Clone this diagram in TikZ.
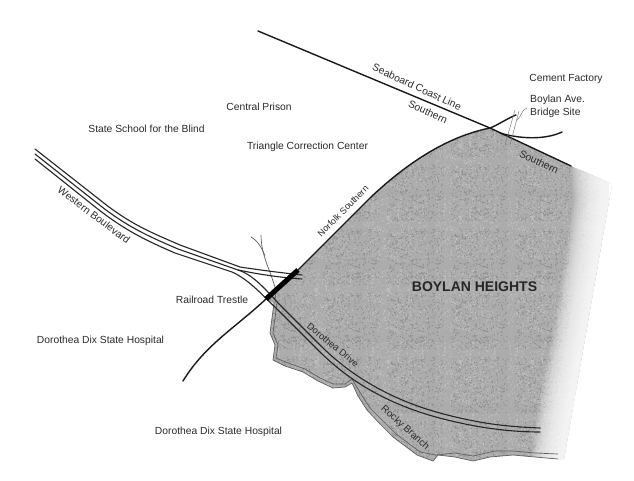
\documentclass[tikz,border=0pt]{standalone}
\usepackage{fontspec}
\usetikzlibrary{patterns}
\setmainfont{Liberation Sans}
\definecolor{ink}{HTML}{2A2A2A}
\definecolor{land}{HTML}{ACACAC}
\definecolor{landdark}{HTML}{8E8E8E}
\definecolor{landlight}{HTML}{C0C0C0}
\definecolor{creek}{HTML}{606060}
\pgfmathsetseed{7}
\pgfdeclarepatternformonly{noiseA}{\pgfpointorigin}{\pgfqpoint{64pt}{64pt}}{\pgfqpoint{64pt}{64pt}}{%
  \foreach \i in {1,...,420}{%
    \pgfmathsetmacro{\qx}{3+rnd*57}\pgfmathsetmacro{\qy}{3+rnd*57}%
    \pgfpathrectangle{\pgfpoint{\qx pt}{\qy pt}}{\pgfqpoint{1pt}{1pt}}%
  }%
  \pgfusepath{fill}%
}
\pgfdeclarepatternformonly{noiseB}{\pgfpointorigin}{\pgfqpoint{72pt}{72pt}}{\pgfqpoint{72pt}{72pt}}{%
  \foreach \i in {1,...,520}{%
    \pgfmathsetmacro{\qx}{3+rnd*65}\pgfmathsetmacro{\qy}{3+rnd*65}%
    \pgfpathrectangle{\pgfpoint{\qx pt}{\qy pt}}{\pgfqpoint{1pt}{1pt}}%
  }%
  \pgfusepath{fill}%
}
\tikzset{
  lab/.style={font=\fontsize{10.3}{13}\selectfont,text=ink,inner sep=0pt},
  roadline/.style={draw=black!85,line width=1.1pt,line cap=round,line join=round},
  rail/.style={draw=black!90,line width=1.4pt,line cap=round},
  creekline/.style={draw=creek,line width=0.7pt,line join=round},
}
\begin{document}
\begin{tikzpicture}[x=1pt,y=-1pt]
\useasboundingbox (0,0) rectangle (634,481);
\fill[white] (0,0) rectangle (634,481);
\coordinate (junction) at (490,128);
\coordinate (trestleN) at (298,270);
\coordinate (trestleS) at (266,299);
\def\landpath{(junction) .. controls (450,136) and (410,160) .. (370,198)
   -- (trestleN) -- (trestleS) -- (274,303) -- (272,318) -- (270,333) -- (275,345) -- (273,360) -- (285,366) -- (303,372)
   -- (318,381) -- (333,388) -- (345,387) -- (352,383) -- (358,396) -- (367,410) -- (380,424) -- (393,437) -- (405,446) -- (417,455)
   -- (433,461) -- (438,455) -- (455,457) -- (473,461) -- (490,457) -- (513,455) -- (535,457) -- (558,459)
   -- (564,459) -- (612,184) -- (571,166) -- cycle}
\begin{scope}
\clip \landpath;
\fill[land] (260,120) rectangle (620,470);
\fill[pattern=noiseA,pattern color=landdark] (260,120) rectangle (620,470);
\fill[pattern=noiseB,pattern color=landlight] (260,120) rectangle (620,470);
\foreach \d in {0,1,...,36}{
  \fill[white,opacity=0.08] (570+\d,150) -- (573+\d,200) -- (566+\d,250) -- (558+\d,300) -- (549+\d,350) -- (539+\d,400) -- (528+\d,470) -- (650,470) -- (650,150) -- cycle;
}
\fill[white] (610,150) -- (609,200) -- (602,250) -- (593,300) -- (584,350) -- (574,400) -- (563,470) -- (650,470) -- (650,150) -- cycle;
\end{scope}
% creek
\path[creekline] (251,237) .. controls (258,241) and (262,248) .. (265,256);
\path[creekline] (261,235) .. controls (261,250) and (266,262) .. (271,275) -- (276,290) -- (275,303);
\path[creekline] (274,303) -- (272,318) -- (270,333) -- (275,345) -- (273,360) -- (285,366) -- (303,372) -- (318,381) -- (333,388) -- (345,387) -- (352,383) -- (358,396) -- (367,410) -- (380,424) -- (393,437) -- (405,446) -- (417,455) -- (433,461) -- (438,455) -- (455,457) -- (473,461) -- (490,457) -- (513,455) -- (535,457) -- (558,459);
\path[creekline] (277,303) -- (275,318) -- (273,333) -- (278,345) -- (276,358) -- (288,363) -- (305,369) -- (320,378) -- (333,384) -- (345,384) -- (352,379) -- (361,394) -- (370,408) -- (383,421) -- (396,434) -- (408,443) -- (420,452) -- (436,455) -- (455,453) -- (473,456) -- (495,451) -- (513,451) -- (535,453) -- (558,454);
% western boulevard and its branches
\path[roadline] (35,149) -- (100,200) .. controls (130,224) and (150,232) .. (180,245) -- (240,267) .. controls (260,270) and (275,272) .. (302,275);
\path[roadline] (35,154) -- (97,203) .. controls (127,227) and (148,236) .. (178,249) -- (238,270) .. controls (258,274) and (275,277) .. (302,279);
\path[roadline] (238,270) .. controls (255,275) and (270,295) .. (283,308) -- (320,345) .. controls (355,380) and (400,405) .. (460,418) .. controls (490,425) and (515,427) .. (540,428);
\path[roadline] (35,159) -- (94,206) .. controls (124,230) and (145,240) .. (175,253) -- (232,272) .. controls (250,280) and (265,298) .. (279,311) -- (316,348) .. controls (351,384) and (396,409) .. (456,422) .. controls (486,429) and (515,432) .. (540,432);
% railways
\path[rail] (258,31) -- (junction) -- (571,166);
\path[rail] (junction) .. controls (450,136) and (410,160) .. (370,198) -- (trestleN);
\path[rail] (trestleS) .. controls (235,328) and (205,345) .. (183,381);
\path[rail] (junction) .. controls (498,125) and (508,118) .. (516,115);
\path[rail] (500,133) .. controls (520,139) and (545,140) .. (562,132);
\draw[line width=5pt,black] (trestleS) -- (trestleN);
% bridge site
\path[draw=black!55,line width=0.45pt] (515,110) -- (505,145);
\path[draw=black!55,line width=0.45pt] (519,111) -- (510,145);
\path[draw=black!55,line width=0.45pt] (527,108) .. controls (521,110) and (522,116) .. (517,120);
% labels
\node[lab] (cp) at (259,107) {Central Prison};
\node[lab] (ss) at (146.5,129) {State School for the Blind};
\node[lab] (tc) at (307.5,147) {Triangle Correction Center};
\node[lab] (cf) at (566,79) {Cement Factory};
\node[lab,anchor=north west,align=left] (ba) at (530,95) {Boylan Ave.\\Bridge Site};
\node[lab,rotate=-25] (sc) at (417,87) {Seaboard Coast Line};
\node[lab,rotate=-25] (so1) at (428,112) {Southern};
\node[lab,rotate=-25] (so2) at (539,162) {Southern};
\node[lab,rotate=45,font=\fontsize{9}{10}\selectfont] (ns) at (343,211) {Norfolk Southern};
\node[lab,rotate=-37] (wb) at (94,215) {Western Boulevard};
\node[lab] (rt) at (212,300) {Railroad Trestle};
\node[lab,rotate=-39,font=\fontsize{9.4}{11}\selectfont] (dd) at (333,345) {Dorothea Drive};
\node[lab,rotate=-42,font=\fontsize{9.8}{11}\selectfont] (rb) at (405,428) {Rocky Branch};
\node[lab] (dh1) at (100.5,341) {Dorothea Dix State Hospital};
\node[lab] (dh2) at (218.5,432) {Dorothea Dix State Hospital};
\node[lab,font=\fontsize{14}{16}\selectfont\bfseries,text=black!85] (bh) at (474.5,287) {BOYLAN HEIGHTS};
\end{tikzpicture}
\end{document}
